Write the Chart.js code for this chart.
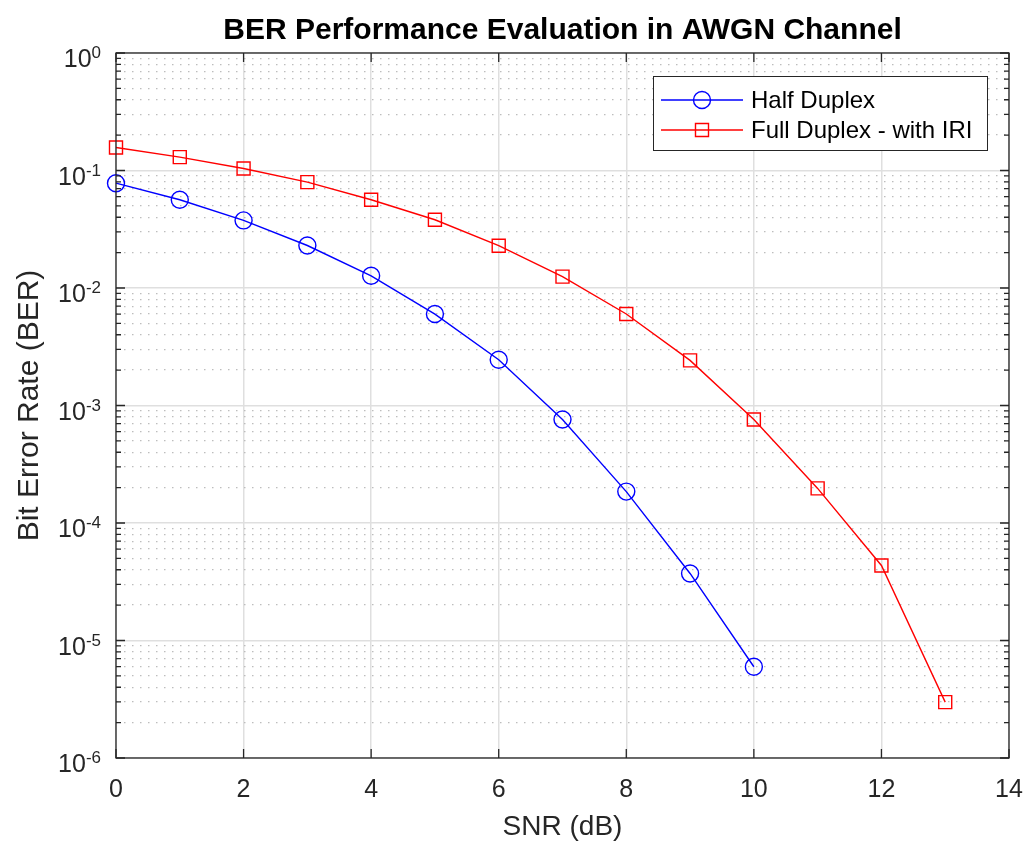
<!DOCTYPE html>
<html>
<head>
<meta charset="utf-8">
<script src="https://cdn.jsdelivr.net/npm/chart.js@4/dist/chart.umd.min.js"></script>
<style>
html,body{margin:0;padding:0;background:#fff;}
canvas{display:block;}
</style>
</head>
<body>
<canvas id="c" width="1029" height="848"></canvas>
<script>
// ---- data ----
const snrDb = [0, 1, 2, 3, 4, 5, 6, 7, 8, 9, 10, 11, 12, 13];
const halfDuplexBER = [0.078, 0.0564, 0.0376, 0.0230, 0.0127, 0.0060, 0.00245, 7.6e-4, 1.85e-4, 3.72e-5, 5.98e-6];
const fullDuplexBER = [0.157, 0.130, 0.104, 0.0796, 0.0564, 0.0381, 0.0229, 0.0125, 0.00601, 0.00242, 7.6e-4, 1.97e-4, 4.35e-5, 2.99e-6];
const seriesLabels = ['Half Duplex', 'Full Duplex - with IRI'];
const xTickValues = [0, 2, 4, 6, 8, 10, 12, 14];
const yDecadeExponents = [0, -1, -2, -3, -4, -5, -6];
const chartTitle = 'BER Performance Evaluation in AWGN Channel';
const xAxisTitle = 'SNR (dB)';
const yAxisTitle = 'Bit Error Rate (BER)';

const FONT = '"Liberation Sans", Arial, Helvetica, sans-serif';
Chart.defaults.font.family = FONT;

function mantissa(v) {
  const e = Math.floor(Math.log10(v) + 1e-9);
  return v / Math.pow(10, e);
}
function isDecade(v) {
  return Math.abs(mantissa(v) - 1) < 1e-6;
}

const frame = {
  id: 'frame',
  afterDraw(chart) {
    const {ctx, chartArea: a, scales: {x, y}} = chart;
    ctx.save();
    ctx.strokeStyle = '#262626';
    ctx.lineWidth = 1.3;
    ctx.beginPath();
    xTickValues.forEach(v => {
      const px = x.getPixelForValue(v);
      ctx.moveTo(px, a.bottom); ctx.lineTo(px, a.bottom - 9);
      ctx.moveTo(px, a.top); ctx.lineTo(px, a.top + 9);
    });
    y.ticks.forEach(t => {
      const py = y.getPixelForValue(t.value);
      const len = isDecade(t.value) ? 9 : 5;
      ctx.moveTo(a.left, py); ctx.lineTo(a.left + len, py);
      ctx.moveTo(a.right, py); ctx.lineTo(a.right - len, py);
    });
    ctx.stroke();
    ctx.strokeRect(a.left, a.top, a.right - a.left, a.bottom - a.top);

    ctx.fillStyle = '#262626';
    ctx.textBaseline = 'alphabetic';
    yDecadeExponents.forEach(e => {
      const py = y.getPixelForValue(Math.pow(10, e));
      const expText = String(e);
      ctx.font = '17px ' + FONT;
      const ew = ctx.measureText(expText).width;
      const rightX = a.left - 15;
      ctx.textAlign = 'left';
      ctx.fillText(expText, rightX - ew, py + 5);
      ctx.font = '25px ' + FONT;
      ctx.textAlign = 'right';
      ctx.fillText('10', rightX - ew, py + 14);
    });

    // legend
    const lx = 653, ly = 76, lw = 334, lh = 74;
    ctx.fillStyle = '#ffffff';
    ctx.fillRect(lx, ly, lw, lh);
    ctx.strokeStyle = '#262626';
    ctx.lineWidth = 1;
    ctx.strokeRect(lx + 0.5, ly + 0.5, lw, lh);
    chart.data.datasets.forEach((ds, i) => {
      const cy = ly + 24 + i * 30;
      ctx.strokeStyle = ds.borderColor;
      ctx.lineWidth = ds.borderWidth;
      ctx.beginPath();
      ctx.moveTo(661, cy); ctx.lineTo(743, cy);
      ctx.stroke();
      ctx.lineWidth = ds.pointBorderWidth;
      ctx.beginPath();
      if (ds.pointStyle === 'circle') {
        ctx.arc(702, cy, ds.pointRadius, 0, Math.PI * 2);
      } else {
        const s = ds.pointRadius * Math.SQRT1_2;
        ctx.rect(702 - s, cy - s, 2 * s, 2 * s);
      }
      ctx.stroke();
      ctx.fillStyle = '#000000';
      ctx.font = '24px ' + FONT;
      ctx.textAlign = 'left';
      ctx.textBaseline = 'middle';
      ctx.fillText(ds.label, 751, cy + 1);
    });
    ctx.restore();
  }
};

const gridMajor = '#dfdfdf';
const gridMinor = '#bdbdbd';

new Chart(document.getElementById('c'), {
  type: 'line',
  data: {
    datasets: [
      {
        label: seriesLabels[0],
        data: halfDuplexBER.map((v, i) => ({x: snrDb[i], y: v})),
        borderColor: '#0000ff',
        backgroundColor: 'rgba(0,0,0,0)',
        borderWidth: 1.4,
        pointStyle: 'circle',
        pointRadius: 8.5,
        pointHoverRadius: 8.5,
        pointBorderWidth: 1.4,
        pointBackgroundColor: 'rgba(0,0,0,0)',
        tension: 0,
        fill: false,
        clip: false
      },
      {
        label: seriesLabels[1],
        data: fullDuplexBER.map((v, i) => ({x: snrDb[i], y: v})),
        borderColor: '#ff0000',
        backgroundColor: 'rgba(0,0,0,0)',
        borderWidth: 1.4,
        pointStyle: 'rect',
        pointRadius: 9.2,
        pointHoverRadius: 9.2,
        pointBorderWidth: 1.4,
        pointBackgroundColor: 'rgba(0,0,0,0)',
        tension: 0,
        fill: false,
        clip: false
      }
    ]
  },
  options: {
    responsive: false,
    animation: false,
    devicePixelRatio: 1,
    events: [],
    layout: {padding: {left: 0, right: 20, top: 0, bottom: 0}},
    plugins: {
      legend: {display: false},
      tooltip: {enabled: false},
      title: {
        display: true,
        text: chartTitle,
        fullSize: false,
        color: '#000000',
        font: {size: 30, weight: 'bold', family: FONT},
        padding: {top: 13, bottom: 4}
      }
    },
    scales: {
      x: {
        type: 'linear',
        min: 0,
        max: 14,
        afterBuildTicks: s => { s.ticks = xTickValues.map(v => ({value: v})); },
        afterFit: s => { s.height = 90; s.paddingLeft = 0; s.paddingRight = 0; },
        ticks: {
          stepSize: 2,
          color: '#262626',
          font: {size: 25, family: FONT},
          padding: 17,
          maxRotation: 0,
          autoSkip: false
        },
        grid: {color: gridMajor, lineWidth: 1.5, drawTicks: false},
        border: {display: false},
        title: {
          display: true,
          text: xAxisTitle,
          color: '#262626',
          font: {size: 28, family: FONT},
          padding: {top: 0, bottom: 4}
        }
      },
      y: {
        type: 'logarithmic',
        min: 1e-6,
        max: 1,
        afterBuildTicks: s => {
          s.ticks = s.ticks.filter(t => Math.abs(mantissa(t.value) - Math.round(mantissa(t.value))) < 1e-6);
        },
        afterFit: s => { s.width = 116; s.paddingTop = 0; s.paddingBottom = 0; },
        ticks: {display: false, autoSkip: false},
        grid: {
          drawTicks: false,
          color: c => (c.tick && !isDecade(c.tick.value)) ? gridMinor : gridMajor,
          lineWidth: c => (c.tick && !isDecade(c.tick.value)) ? 1.3 : 1.5
        },
        border: {
          display: false,
          dash: c => (c.tick && !isDecade(c.tick.value)) ? [1.5, 6.5] : []
        },
        title: {
          display: true,
          text: yAxisTitle,
          color: '#262626',
          font: {size: 30, family: FONT},
          padding: {top: 12, bottom: 0}
        }
      }
    }
  },
  plugins: [frame]
});
</script>
</body>
</html>
